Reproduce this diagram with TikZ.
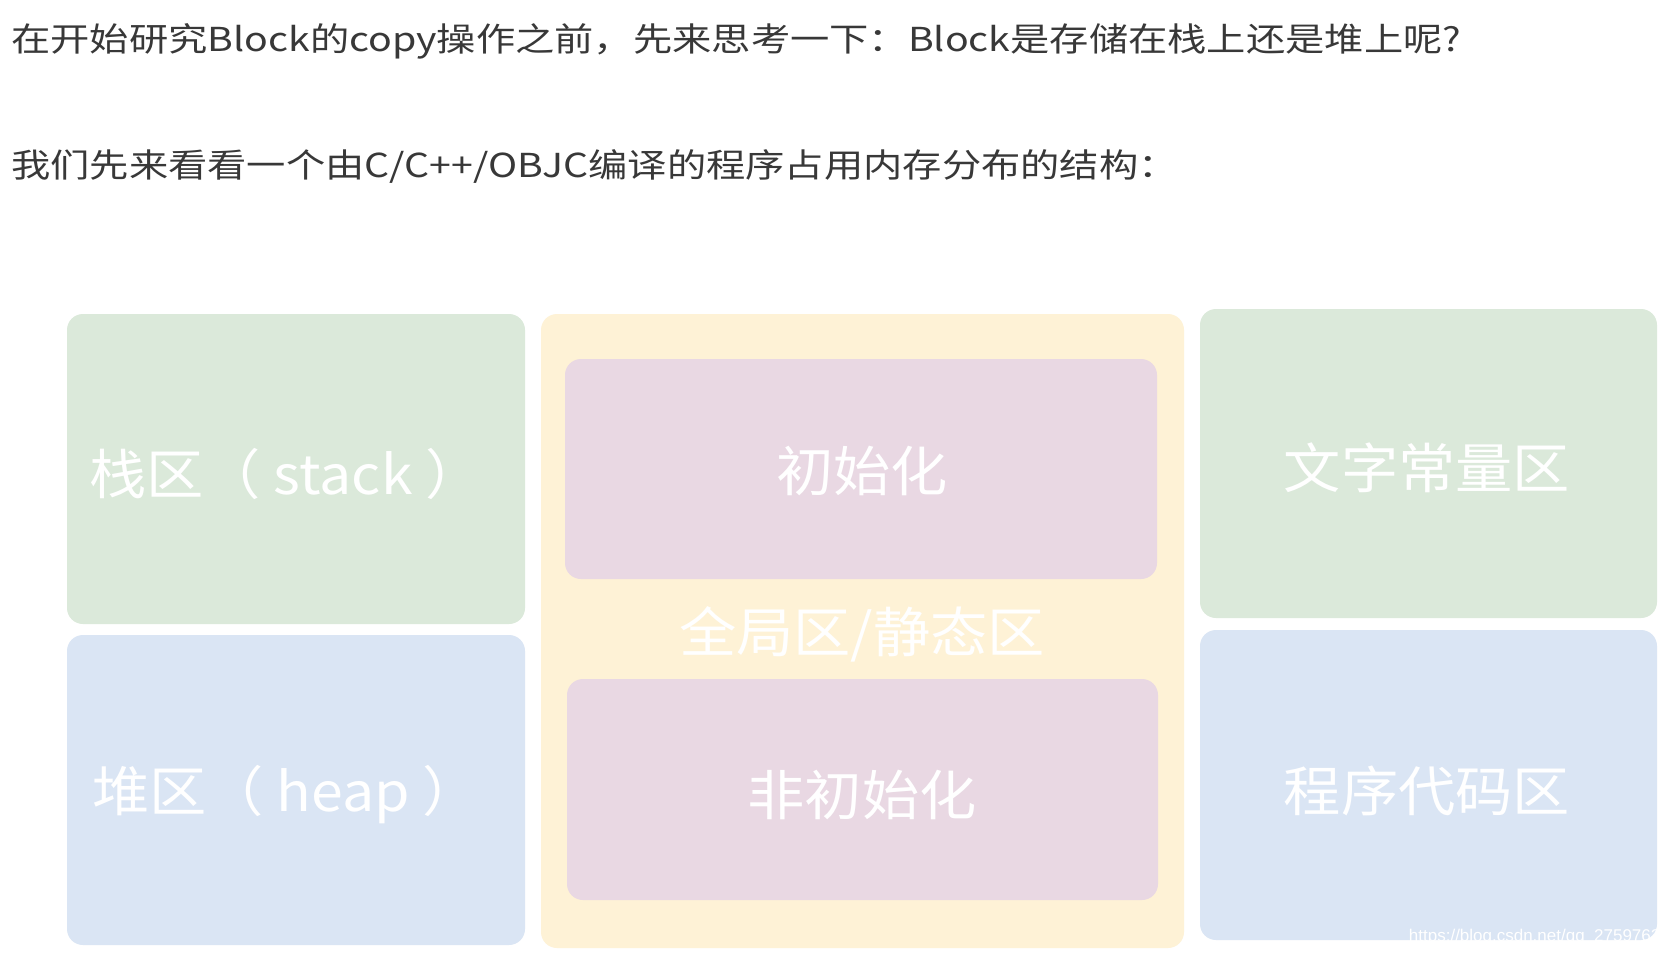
\documentclass[tikz,border=0pt]{standalone}
\usepackage{fontspec}
\setmainfont{Noto Sans CJK SC}
\newfontfamily\wmfont{Liberation Sans}
\begin{document}
\begin{tikzpicture}[x=1pt,y=-1pt,
  box/.style={rounded corners=16pt,draw=none},
  big/.style={text=white,font=\fontsize{54}{60}\selectfont,xscale=1.06,transform shape},
  top/.style={anchor=west,text=black!78,font=\fontsize{33}{38}\selectfont,inner sep=0,xscale=1.19,transform shape}]
\useasboundingbox (0,0) rectangle (1680,956);
\fill[white] (0,0) rectangle (1680,956);
\node[top] (t1) at (11,41) {在开始研究Block的copy操作之前，先来思考一下：Block是存储在栈上还是堆上呢?};
\node[top] (t2) at (11,166) {我们先来看看一个由C/C++/OBJC编译的程序占用内存分布的结构：};
\fill[box,fill={rgb,255:red,219;green,233;blue,218}] (67,314) rectangle (525,624);
\fill[box,fill={rgb,255:red,218;green,229;blue,244}] (67,635) rectangle (525,945);
\fill[box,fill={rgb,255:red,254;green,242;blue,214}] (541,314) rectangle (1184,948);
\fill[box,fill={rgb,255:red,233;green,216;blue,227}] (565,359) rectangle (1157,579);
\fill[box,fill={rgb,255:red,233;green,216;blue,227}] (567,679) rectangle (1158,900);
\fill[box,fill={rgb,255:red,219;green,233;blue,218}] (1200,309) rectangle (1657,618);
\fill[box,fill={rgb,255:red,218;green,229;blue,244}] (1200,630) rectangle (1657,940);
\node[big] (stack) at (286,474) {栈区（ stack ）};
\node[big] (heap) at (286,795) {堆区（ heap ）};
\node[big] (init) at (862,471) {初始化};
\node[big] (uninit) at (862,795) {非初始化};
\node[big] (glob) at (862,634) {全局区/静态区};
\node[big] (lit) at (1427,468) {文字常量区};
\node[big] (code) at (1427,791) {程序代码区};
\node[anchor=east,text=white,font=\fontsize{17}{19}\selectfont\wmfont,inner sep=0] (wm) at (1670,937) {https://blog.csdn.net/qq\_27597629};
\end{tikzpicture}
\end{document}
